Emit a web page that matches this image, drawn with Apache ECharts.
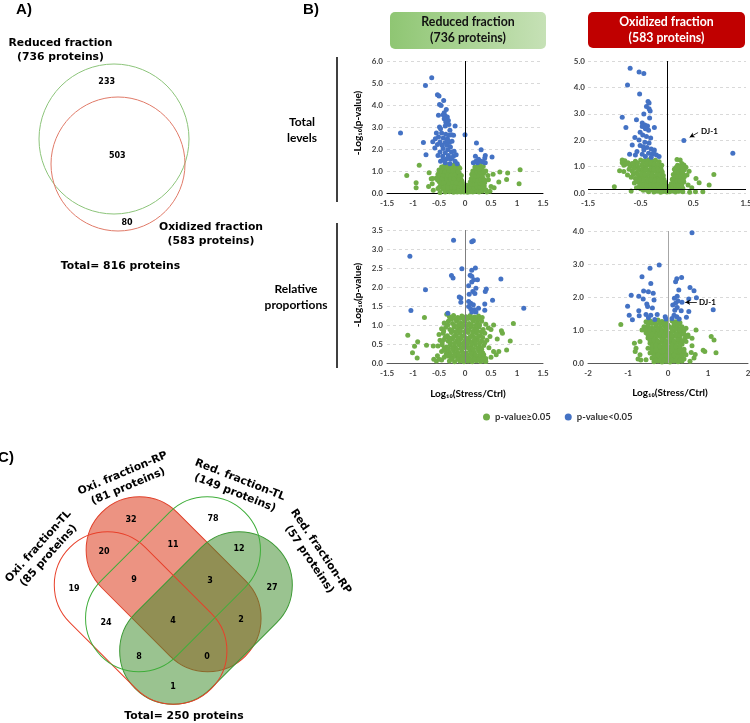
<!DOCTYPE html>
<html><head><meta charset="utf-8">
<script src="https://cdn.jsdelivr.net/npm/echarts@6.0.0/dist/echarts.min.js"></script>
<style>html,body{margin:0;padding:0;background:#fff}#c{width:750px;height:723px}</style>
</head><body><div id="c"></div>
<script>
// ---------- DATA ----------
const seriesNames = ['p-value≥0.05', 'p-value<0.05'];
const headerTitles = ['Reduced fraction\n(736 proteins)', 'Oxidized fraction\n(583 proteins)'];
const rowTitles = ['Total\nlevels', 'Relative\nproportions'];
const yTitle = '-Log₁₀(p-value)';
const xTitle = 'Log₁₀(Stress/Ctrl)';
const annot = 'DJ-1';

// axis ranges [min, max, interval]
const p1X = [-1.5, 1.5, 0.5], p1Y = [0, 6, 1];
const p2X = [-1.5, 1.5, 0.5], p2Y = [0, 5, 1];
const p3X = [-1.5, 1.5, 0.5], p3Y = [0, 3.5, 0.5];
const p4X = [-2, 2, 1], p4Y = [0, 4, 1];

// Plot 1: reduced fraction, total levels
const p1Blue = [[-1.24,2.73],[-0.80,2.29],[-0.75,1.74],[-0.64,5.24],[-0.76,4.89],[-0.53,4.47],[-0.50,4.41],[-0.41,4.20],[-0.49,4.02],[-0.46,3.98],[-0.36,3.79],[-0.40,3.65],[-0.42,3.56],[-0.38,3.50],[-0.34,3.45],[-0.51,3.53],[-0.40,3.38],[-0.32,3.30],[-0.37,3.23],[-0.31,3.11],[-0.49,3.00],[-0.47,2.92],[-0.38,3.05],[-0.19,3.05],[-0.29,2.85],[-0.55,2.73],[-0.45,2.73],[-0.37,2.67],[-0.31,2.62],[-0.26,2.65],[-0.22,2.62],[-0.51,2.55],[-0.42,2.50],[-0.34,2.47],[-0.57,2.47],[-0.62,2.33],[-0.48,2.32],[-0.38,2.29],[-0.30,2.29],[-0.25,2.35],[-0.53,2.20],[-0.44,2.17],[-0.35,2.17],[-0.28,2.09],[-0.58,2.05],[-0.42,2.02],[-0.33,1.97],[-0.48,1.86],[-0.38,1.83],[-0.26,1.86],[-0.52,1.71],[-0.43,1.67],[-0.32,1.71],[-0.22,1.68],[-0.17,1.74],[-0.35,1.56],[-0.28,1.53],[-0.47,1.44],[-0.38,1.38],[-0.19,1.44],[-0.15,1.33],[-0.29,1.33],[-0.25,1.59],[-0.42,1.52],[-0.21,1.90],[-0.33,2.40],[0.0,2.65],[0.22,2.27],[0.31,1.97],[0.20,1.67],[0.39,1.71],[0.38,1.59],[0.26,1.53],[0.31,1.44],[0.24,1.38],[0.21,1.44],[0.16,1.38],[0.35,1.41],[0.39,1.38],[0.52,1.64]];
const p1Green = [[-0.45,1.18],[-0.42,1.14],[-0.38,1.25],[-0.33,1.28],[-0.28,1.22],[-0.22,1.27],[-0.18,1.2],[-0.14,1.24],[-0.5,1.05],[-0.44,1.0],[-0.36,1.05],[-0.3,1.1],[-0.25,1.02],[-0.2,1.08],[-0.15,1.05],[-0.1,1.12],[-0.52,0.85],[-0.46,0.9],[-0.4,0.85],[-0.34,0.92],[-0.27,0.88],[-0.21,0.93],[-0.16,0.86],[-0.11,0.9],[-0.07,0.8],[-0.55,0.68],[-0.48,0.72],[-0.41,0.66],[-0.36,0.74],[-0.3,0.7],[-0.24,0.75],[-0.18,0.68],[-0.13,0.72],[-0.08,0.62],[-0.5,0.52],[-0.44,0.56],[-0.38,0.5],[-0.32,0.55],[-0.26,0.52],[-0.2,0.57],[-0.15,0.5],[-0.1,0.48],[-0.05,0.45],[-0.47,0.35],[-0.4,0.38],[-0.34,0.32],[-0.28,0.36],[-0.22,0.33],[-0.17,0.38],[-0.12,0.3],[-0.07,0.33],[-0.03,0.28],[-0.52,0.2],[-0.43,0.18],[-0.36,0.15],[-0.3,0.2],[-0.24,0.14],[-0.19,0.2],[-0.14,0.12],[-0.09,0.17],[-0.04,0.1],[-0.38,0.05],[-0.3,0.06],[-0.22,0.03],[-0.15,0.05],[-0.08,0.04],[-0.02,0.05],[0.02,0.08],[0.01,0.2],[0.03,0.35],[-0.01,0.15],[0.05,0.03],[0.1,0.06],[0.15,0.04],[0.2,0.07],[0.27,0.05],[0.33,0.08],[0.42,0.05],[0.06,0.18],[0.11,0.2],[0.16,0.15],[0.22,0.19],[0.28,0.17],[0.35,0.2],[0.4,0.15],[0.08,0.32],[0.13,0.36],[0.19,0.3],[0.25,0.34],[0.31,0.38],[0.37,0.32],[0.1,0.5],[0.15,0.46],[0.2,0.53],[0.26,0.5],[0.32,0.55],[0.38,0.48],[0.12,0.65],[0.17,0.7],[0.22,0.66],[0.28,0.72],[0.34,0.68],[0.13,0.85],[0.18,0.82],[0.24,0.88],[0.3,0.84],[0.36,0.9],[0.15,1.0],[0.2,1.05],[0.26,1.0],[0.32,1.06],[0.19,1.18],[0.25,1.22],[0.3,1.15],[0.35,1.2],[0.28,1.3],[0.4,1.0],[0.44,0.8],[0.45,0.6],[-1.12,0.8],[-0.88,1.26],[-0.94,0.47],[-0.94,0.24],[-0.69,0.92],[-0.65,0.65],[-0.62,0.66],[-0.63,0.42],[-0.61,0.12],[-0.48,0.02],[-0.7,0.3],[0.54,0.85],[0.65,0.5],[0.67,0.95],[0.82,0.91],[0.8,0.61],[1.06,1.06],[1.04,0.42],[0.56,0.24],[0.48,0.08],[0.5,0.3]];
const p1GreenB = [[-0.41,1.2],[-0.35,1.16],[-0.26,1.15],[-0.19,1.14],[-0.12,1.17],[-0.47,0.96],[-0.39,0.95],[-0.31,0.98],[-0.23,0.99],[-0.13,0.97],[-0.49,0.78],[-0.43,0.8],[-0.33,0.82],[-0.27,0.79],[-0.2,0.82],[-0.1,0.76],[-0.53,0.6],[-0.45,0.63],[-0.35,0.6],[-0.28,0.64],[-0.21,0.62],[-0.12,0.58],[-0.06,0.55],[-0.46,0.44],[-0.41,0.46],[-0.31,0.43],[-0.24,0.45],[-0.17,0.44],[-0.09,0.4],[-0.49,0.27],[-0.39,0.26],[-0.33,0.24],[-0.26,0.27],[-0.2,0.26],[-0.11,0.23],[-0.06,0.2],[-0.01,0.1],[-0.12,0.08],[0.08,0.12],[0.13,0.1],[0.24,0.12],[0.31,0.12],[0.1,0.26],[0.17,0.24],[0.23,0.27],[0.29,0.27],[0.34,0.28],[0.12,0.42],[0.18,0.4],[0.23,0.43],[0.29,0.45],[0.35,0.42],[0.14,0.58],[0.19,0.6],[0.25,0.58],[0.3,0.63],[0.37,0.6],[0.15,0.76],[0.21,0.77],[0.27,0.8],[0.33,0.77],[0.17,0.93],[0.23,0.96],[0.29,0.94],[0.35,0.98],[0.22,1.12],[0.27,1.08]];

// Plot 2: oxidized fraction, total levels
const p2Blue = [[-0.70,4.73],[-0.53,4.58],[-0.44,4.53],[-0.75,4.09],[-0.52,3.75],[-0.36,3.47],[-0.34,3.41],[-0.39,3.28],[-0.34,3.19],[-0.85,2.87],[-0.32,3.11],[-0.44,2.99],[-0.58,2.77],[-0.33,2.84],[-0.47,2.65],[-0.42,2.58],[-0.37,2.54],[-0.47,2.52],[-0.78,2.48],[-0.24,2.48],[-0.41,2.43],[-0.35,2.38],[-0.51,2.30],[-0.46,2.20],[-0.39,2.14],[-0.61,2.10],[-0.31,2.08],[-0.53,2.01],[-0.42,1.92],[-0.34,1.89],[-0.66,1.82],[-0.51,1.80],[-0.38,1.72],[-0.30,1.67],[-0.44,1.63],[-0.24,1.63],[-0.57,1.57],[-0.71,1.47],[-0.60,1.44],[-0.47,1.47],[-0.35,1.51],[-0.28,1.47],[-0.20,1.44],[-0.15,1.38],[-0.41,1.38],[-0.30,1.35],[-0.25,1.55],[-0.45,1.75],[0.32,1.99],[1.25,1.51]];
const p2Green = [[-0.85,1.25],[-0.8,1.22],[-0.85,1.15],[-0.78,1.1],[-0.6,1.2],[-0.5,1.25],[-0.42,1.22],[-0.35,1.25],[-0.28,1.2],[-0.22,1.24],[-0.15,1.18],[-0.7,1.0],[-0.62,1.05],[-0.55,0.98],[-0.48,1.05],[-0.4,1.0],[-0.33,1.06],[-0.26,0.98],[-0.19,1.03],[-0.12,0.96],[-0.9,0.84],[-0.82,0.81],[-0.75,0.68],[-0.66,0.82],[-0.58,0.78],[-0.5,0.85],[-0.43,0.8],[-0.36,0.86],[-0.29,0.78],[-0.22,0.83],[-0.15,0.77],[-0.09,0.8],[-0.68,0.6],[-0.6,0.55],[-0.53,0.62],[-0.46,0.58],[-0.39,0.64],[-0.32,0.57],[-0.25,0.62],[-0.18,0.56],[-0.11,0.6],[-0.06,0.52],[-0.62,0.38],[-0.55,0.42],[-0.48,0.36],[-0.41,0.42],[-0.34,0.37],[-0.27,0.43],[-0.2,0.36],[-0.14,0.4],[-0.08,0.35],[-0.03,0.3],[-0.58,0.2],[-0.5,0.16],[-0.43,0.22],[-0.36,0.17],[-0.29,0.21],[-0.22,0.15],[-0.16,0.2],[-0.1,0.14],[-0.04,0.18],[-0.68,0.08],[-0.35,0.05],[-0.25,0.04],[-0.18,0.07],[-0.12,0.03],[-0.06,0.06],[0.0,0.04],[0.0,0.15],[0.02,0.25],[0.05,0.05],[0.1,0.08],[0.16,0.04],[0.22,0.07],[0.3,0.05],[0.06,0.18],[0.12,0.22],[0.18,0.17],[0.24,0.21],[0.3,0.18],[0.08,0.35],[0.14,0.4],[0.2,0.34],[0.26,0.38],[0.32,0.42],[0.1,0.52],[0.16,0.57],[0.22,0.5],[0.28,0.55],[0.38,0.68],[0.12,0.7],[0.18,0.75],[0.24,0.68],[0.3,0.74],[0.14,0.9],[0.2,0.86],[0.27,0.92],[0.33,0.88],[0.19,1.27],[0.25,1.25],[0.32,1.06],[0.2,1.05],[0.28,1.12],[0.36,0.98],[0.42,0.82],[-1.0,0.24],[0.89,0.7],[0.8,0.3],[0.61,0.39],[0.68,0.05],[0.54,0.05],[0.43,0.03],[0.47,0.2],[0.4,0.3],[0.55,0.55]];
const p2GreenB = [[-0.82,1.05],[-0.74,1.15],[-0.66,1.12],[-0.56,1.14],[-0.46,1.13],[-0.38,1.14],[-0.3,1.13],[-0.24,1.1],[-0.17,1.1],[-0.1,1.05],[-0.72,0.9],[-0.63,0.93],[-0.54,0.9],[-0.46,0.94],[-0.4,0.9],[-0.31,0.92],[-0.25,0.9],[-0.17,0.9],[-0.11,0.88],[-0.64,0.7],[-0.56,0.7],[-0.49,0.72],[-0.42,0.7],[-0.35,0.73],[-0.28,0.68],[-0.2,0.7],[-0.13,0.68],[-0.07,0.66],[-0.58,0.5],[-0.51,0.49],[-0.44,0.5],[-0.37,0.5],[-0.3,0.5],[-0.23,0.49],[-0.16,0.48],[-0.1,0.45],[-0.04,0.42],[-0.52,0.28],[-0.45,0.3],[-0.38,0.28],[-0.31,0.3],[-0.25,0.28],[-0.18,0.28],[-0.12,0.25],[-0.06,0.26],[-0.45,0.1],[-0.39,0.11],[-0.31,0.12],[-0.22,0.1],[-0.15,0.12],[-0.08,0.1],[-0.02,0.1],[0.04,0.12],[0.09,0.15],[0.14,0.12],[0.2,0.12],[0.26,0.12],[0.1,0.3],[0.16,0.28],[0.22,0.28],[0.28,0.3],[0.12,0.45],[0.18,0.47],[0.25,0.46],[0.31,0.5],[0.14,0.62],[0.2,0.64],[0.26,0.62],[0.33,0.62],[0.16,0.8],[0.22,0.8],[0.28,0.82],[0.17,0.97],[0.24,1.0],[0.3,0.98]];

// Plot 3: reduced fraction, relative proportions
const p3Blue = [[-0.22,3.23],[0.13,3.19],[0.16,3.22],[-1.06,2.81],[-0.06,2.48],[0.20,2.50],[0.10,2.31],[0.13,2.28],[-0.26,2.30],[-0.23,2.24],[0.17,2.19],[0.24,2.19],[0.13,2.44],[0.69,2.21],[0.13,2.13],[0.07,2.03],[0.21,1.97],[-0.76,1.93],[0.41,1.95],[0.39,1.88],[0.15,1.88],[0.08,1.81],[0.19,1.83],[-0.11,1.74],[-0.08,1.71],[-0.08,1.60],[0.53,1.65],[0.07,1.62],[0.11,1.57],[0.16,1.53],[0.38,1.55],[0.07,1.49],[0.11,1.42],[0.18,1.40],[0.21,1.34],[0.38,1.39],[-1.04,1.38],[1.13,1.44],[-0.33,1.31],[0.26,1.44],[0.13,1.34]];
const p3Green = [[-0.3,1.22],[-0.22,1.25],[-0.14,1.2],[-0.06,1.24],[0.02,1.22],[0.1,1.25],[0.18,1.21],[0.26,1.24],[0.33,1.2],[-0.4,1.05],[-0.32,1.1],[-0.24,1.04],[-0.16,1.1],[-0.08,1.05],[0.0,1.1],[0.08,1.04],[0.16,1.1],[0.24,1.05],[0.32,1.1],[0.4,1.02],[-0.45,0.9],[-0.37,0.94],[-0.29,0.88],[-0.21,0.95],[-0.13,0.9],[-0.05,0.95],[0.03,0.88],[0.11,0.94],[0.19,0.9],[0.27,0.95],[0.35,0.88],[0.45,0.92],[-0.5,0.75],[-0.42,0.78],[-0.34,0.72],[-0.26,0.8],[-0.18,0.74],[-0.1,0.78],[-0.02,0.72],[0.06,0.8],[0.14,0.74],[0.22,0.78],[0.3,0.72],[0.38,0.78],[-0.48,0.6],[-0.4,0.62],[-0.32,0.57],[-0.24,0.63],[-0.16,0.58],[-0.08,0.64],[0.0,0.58],[0.08,0.63],[0.16,0.57],[0.24,0.62],[0.32,0.58],[0.42,0.6],[-0.52,0.45],[-0.44,0.48],[-0.36,0.42],[-0.28,0.47],[-0.2,0.43],[-0.12,0.48],[-0.04,0.42],[0.04,0.47],[0.12,0.43],[0.2,0.48],[0.28,0.42],[0.36,0.46],[0.46,0.4],[-0.45,0.3],[-0.38,0.33],[-0.3,0.28],[-0.22,0.32],[-0.14,0.27],[-0.06,0.31],[0.02,0.27],[0.1,0.32],[0.18,0.28],[0.26,0.32],[0.34,0.27],[-0.4,0.15],[-0.32,0.18],[-0.24,0.14],[-0.16,0.17],[-0.08,0.13],[0.0,0.17],[0.08,0.13],[0.16,0.18],[0.24,0.14],[0.32,0.17],[0.4,0.12],[-0.5,0.1],[-0.55,0.05],[-0.3,0.05],[-0.2,0.03],[-0.1,0.05],[-0.02,0.03],[0.06,0.05],[0.14,0.03],[0.22,0.06],[0.3,0.04],[0.38,0.05],[0.0,0.4],[0.05,0.55],[-0.05,0.2],[0.1,0.38],[-1.1,0.73],[-0.97,0.44],[-1.01,0.27],[-0.91,0.56],[-0.92,0.13],[-0.78,1.2],[-0.74,0.47],[-0.61,0.45],[-0.53,0.19],[-0.6,0.1],[-0.35,1.28],[0.7,0.85],[0.72,0.78],[0.87,0.58],[0.8,0.34],[0.93,1.04],[0.62,0.63],[0.55,0.3],[0.6,0.22],[0.65,0.3],[0.5,0.88],[0.55,1.0],[0.48,0.7],[0.5,0.15],[0.4,0.04]];
const p3GreenB = [[-0.26,1.16],[-0.18,1.15],[-0.1,1.17],[-0.02,1.16],[0.06,1.17],[0.14,1.16],[0.22,1.15],[0.29,1.16],[-0.33,1.0],[-0.2,0.99],[-0.12,1.0],[-0.04,1.0],[0.04,0.99],[0.12,1.0],[0.2,0.99],[0.28,1.0],[-0.41,0.84],[-0.25,0.85],[-0.17,0.83],[-0.09,0.86],[-0.01,0.82],[0.07,0.86],[0.15,0.83],[0.23,0.85],[0.31,0.82],[-0.38,0.68],[-0.3,0.66],[-0.22,0.69],[-0.14,0.67],[-0.06,0.7],[0.02,0.66],[0.1,0.69],[0.18,0.67],[0.26,0.7],[0.34,0.67],[-0.44,0.54],[-0.28,0.53],[-0.2,0.52],[-0.12,0.55],[-0.04,0.52],[0.04,0.54],[0.12,0.52],[0.2,0.55],[0.28,0.52],[0.38,0.53],[-0.4,0.39],[-0.32,0.37],[-0.24,0.38],[-0.16,0.36],[-0.08,0.38],[0.08,0.38],[0.16,0.37],[0.24,0.39],[0.32,0.36],[-0.36,0.23],[-0.28,0.22],[-0.2,0.23],[-0.12,0.21],[-0.04,0.24],[0.04,0.22],[0.12,0.23],[0.2,0.21],[0.28,0.23],[0.36,0.22],[-0.45,0.08],[-0.26,0.1],[-0.14,0.1],[-0.06,0.09],[0.02,0.1],[0.1,0.09],[0.18,0.1],[0.26,0.09],[0.34,0.1]];

// Plot 4: oxidized fraction, relative proportions
const p4Blue = [[0.60,3.95],[-0.22,2.97],[-0.45,2.87],[-0.65,2.61],[0.22,2.55],[0.34,2.59],[0.19,2.46],[-0.43,2.41],[0.55,2.29],[0.27,2.21],[-0.61,2.18],[-0.49,2.16],[-0.37,2.11],[0.65,2.19],[-0.92,2.05],[-0.73,2.02],[0.23,2.02],[0.71,1.98],[0.16,1.96],[-0.62,1.94],[0.52,1.94],[-0.35,1.91],[0.25,1.88],[0.19,1.81],[-0.53,1.79],[0.12,1.76],[0.35,1.84],[-1.01,1.72],[-0.51,1.71],[0.23,1.68],[-0.39,1.67],[1.13,1.61],[0.17,1.60],[0.33,1.58],[-0.73,1.58],[0.52,1.56],[-0.55,1.47],[-0.97,1.45],[-0.43,1.45],[-0.27,1.47],[0.15,1.45],[-0.72,1.43],[0.22,1.40],[-0.89,1.31],[-0.49,1.37],[-0.33,1.32],[-0.07,1.40],[-0.05,1.33],[0.46,1.39],[0.28,1.33],[0.10,1.35]];
const p4Green = [[-0.55,1.25],[-0.45,1.28],[-0.35,1.24],[-0.25,1.3],[-0.15,1.26],[-0.05,1.22],[0.1,1.28],[0.2,1.25],[0.3,1.22],[-0.6,1.1],[-0.5,1.12],[-0.4,1.06],[-0.3,1.12],[-0.2,1.07],[-0.1,1.13],[0.05,1.08],[0.15,1.12],[0.25,1.06],[0.35,1.1],[0.45,1.05],[-0.55,0.92],[-0.45,0.96],[-0.35,0.9],[-0.25,0.95],[-0.15,0.9],[-0.05,0.95],[0.05,0.9],[0.15,0.96],[0.25,0.9],[0.35,0.95],[0.5,0.85],[-0.5,0.76],[-0.4,0.78],[-0.3,0.73],[-0.2,0.8],[-0.1,0.74],[0.0,0.8],[0.1,0.75],[0.2,0.8],[0.3,0.73],[0.42,0.75],[-0.45,0.6],[-0.35,0.62],[-0.25,0.57],[-0.15,0.63],[-0.05,0.58],[0.05,0.64],[0.15,0.58],[0.25,0.62],[0.35,0.57],[-0.5,0.45],[-0.4,0.43],[-0.3,0.48],[-0.2,0.42],[-0.1,0.47],[0.0,0.43],[0.1,0.48],[0.2,0.43],[0.3,0.47],[0.4,0.42],[-0.45,0.3],[-0.35,0.28],[-0.25,0.32],[-0.15,0.27],[-0.05,0.31],[0.05,0.27],[0.15,0.32],[0.25,0.28],[0.35,0.3],[0.45,0.25],[-0.4,0.15],[-0.3,0.17],[-0.2,0.13],[-0.1,0.17],[0.0,0.13],[0.1,0.17],[0.2,0.13],[0.3,0.17],[0.4,0.12],[-0.55,0.1],[-0.35,0.04],[-0.25,0.06],[-0.15,0.03],[-0.05,0.05],[0.05,0.03],[0.15,0.06],[0.25,0.04],[0.35,0.06],[-1.18,1.17],[-0.84,0.6],[-0.8,0.45],[-0.75,0.12],[-0.68,0.09],[-0.82,0.35],[-0.7,0.25],[0.5,0.8],[0.6,0.52],[0.58,0.32],[0.88,0.39],[0.92,0.35],[1.08,0.8],[1.15,0.7],[1.2,0.31],[0.68,0.26],[0.65,0.15],[0.55,0.05],[0.7,1.0],[0.6,0.75],[0.45,0.65],[-0.65,1.0],[-0.7,0.65]];
const p4GreenB = [[-0.5,1.18],[-0.4,1.2],[-0.3,1.18],[-0.2,1.19],[-0.1,1.2],[0.0,1.15],[0.15,1.19],[0.25,1.17],[-0.55,1.02],[-0.45,1.04],[-0.35,1.0],[-0.25,1.03],[-0.15,1.0],[-0.05,1.04],[0.1,1.0],[0.2,1.03],[0.3,1.0],[0.4,0.98],[-0.5,0.85],[-0.4,0.87],[-0.3,0.83],[-0.2,0.87],[-0.1,0.84],[0.0,0.88],[0.1,0.84],[0.2,0.88],[0.3,0.83],[0.4,0.87],[-0.45,0.68],[-0.35,0.7],[-0.25,0.66],[-0.15,0.71],[-0.05,0.67],[0.05,0.71],[0.15,0.67],[0.25,0.71],[0.35,0.66],[-0.4,0.52],[-0.3,0.55],[-0.2,0.51],[-0.1,0.55],[0.0,0.51],[0.1,0.55],[0.2,0.51],[0.3,0.55],[-0.4,0.36],[-0.3,0.39],[-0.2,0.35],[-0.1,0.39],[0.0,0.35],[0.1,0.39],[0.2,0.35],[0.3,0.39],[0.4,0.34],[-0.35,0.22],[-0.25,0.24],[-0.15,0.2],[-0.05,0.23],[0.05,0.2],[0.15,0.24],[0.25,0.2],[0.35,0.23],[-0.3,0.1],[-0.2,0.08],[-0.1,0.1],[0.0,0.07],[0.1,0.1],[0.2,0.08],[0.3,0.1]];

// Venn A
const vennASets = ['Reduced fraction\n(736 proteins)', 'Oxidized fraction\n(583 proteins)'];
const vennACounts = ['233', '503', '80'];
const vennATotal = 'Total= 816 proteins';
// Venn C
const vennCSets = ['Oxi. fraction-TL\n(85 proteins)', 'Oxi. fraction-RP\n(81 proteins)', 'Red. fraction-TL\n(149 proteins)', 'Red. fraction-RP\n(57 proteins)'];
const vennCCounts = ['32','78','20','11','12','19','9','3','27','24','4','2','8','0','1'];
const vennCTotal = 'Total= 250 proteins';
const panelLetters = ['A)', 'B)', 'C)'];

// ---------- LAYOUT ----------
const GREEN = '#70AD47', BLUE = '#4472C4';
const vennAPos = [[106.7,81.7],[117.3,156],[127,223.3]];
const vennCPos = [[131,520],[213,519],[104,552],[173,545],[239,549],[74,589],[134,580],[210,581],[272,588],[106,623],[173,621],[241,620],[139,657],[207,657],[173,687]];
const vennCLabelPos = [[43.5,551,0.84],[125.5,480,0.40],[237.5,486.5,-0.375],[315,555.5,-0.977]];

const chart = echarts.init(document.getElementById('c'), null, {renderer: 'canvas'});

function txt(x, y, text, font, opts) {
  opts = opts || {};
  return {
    type: 'text', x: x, y: y, rotation: opts.rotation || 0, z: 100,
    style: {text: text, font: font, fill: opts.fill || '#000', align: opts.align || 'center',
      verticalAlign: 'middle', textAlign: opts.align || 'center', textVerticalAlign: 'middle',
      lineHeight: opts.lineHeight || undefined}
  };
}
const vfont = 'bold 10.8px "DejaVu Sans"';
const cfont = 'bold 8px "DejaVu Sans"';
const bfont = 'bold 12.3px Lato';
const rfont = 'bold 12px Lato';

const graphics = [];
graphics.push(txt(24, 10, panelLetters[0], 'bold 15px "Liberation Sans"'));
graphics.push(txt(311, 10, panelLetters[1], 'bold 15px "Liberation Sans"'));
graphics.push(txt(6, 458, panelLetters[2], 'bold 15px "Liberation Sans"'));
// Venn A
graphics.push({type: 'circle', shape: {cx: 114, cy: 139, r: 75}, style: {fill: 'none', stroke: '#8cc47a', lineWidth: 1}});
graphics.push({type: 'circle', shape: {cx: 118, cy: 164, r: 67}, style: {fill: 'none', stroke: '#e07a68', lineWidth: 1}});
graphics.push(txt(60.5, 50, vennASets[0], vfont, {lineHeight: 13.4}));
graphics.push(txt(211, 234, vennASets[1], vfont, {lineHeight: 14.5}));
vennACounts.forEach((c, i) => graphics.push(txt(vennAPos[i][0], vennAPos[i][1], c, cfont)));
graphics.push(txt(120.5, 266.5, vennATotal, vfont));
// Venn C shapes (stadiums)
function stadium(cx, cy, d, r, rot, style) {
  return {type: 'rect', x: cx, y: cy, rotation: rot, shape: {x: -(d / 2 + r), y: -r, width: d + 2 * r, height: 2 * r, r: r}, style: style};
}
const R = 53.3;
graphics.push(stadium(173.6, 584.2, 96.6, R, -Math.PI / 4, {fill: 'rgba(222,62,32,0.56)', stroke: '#e0402a', lineWidth: 1}));
graphics.push(stadium(206.0, 618.0, 93.4, R, Math.PI / 4, {fill: 'rgba(62,140,42,0.52)', stroke: '#3d9a35', lineWidth: 1}));
graphics.push(stadium(140.6, 618.0, 93.4, R, -Math.PI / 4, {fill: 'none', stroke: '#e8402a', lineWidth: 1}));
graphics.push(stadium(173.0, 584.2, 96.6, R, Math.PI / 4, {fill: 'none', stroke: '#3fae3a', lineWidth: 1}));
vennCCounts.forEach((c, i) => graphics.push(txt(vennCPos[i][0], vennCPos[i][1], c, cfont)));
vennCSets.forEach((s, i) => graphics.push(txt(vennCLabelPos[i][0], vennCLabelPos[i][1], s, vfont, {rotation: vennCLabelPos[i][2], lineHeight: 14})));
graphics.push(txt(184, 716, vennCTotal, vfont));
// Panel B headers
graphics.push({type: 'rect', shape: {x: 390, y: 12, width: 156, height: 37, r: 5},
  style: {fill: new echarts.graphic.LinearGradient(0, 0, 1, 0, [{offset: 0, color: '#8fc673'}, {offset: 1, color: '#c6e1b6'}])}});
graphics.push(txt(468, 30, headerTitles[0], bfont, {lineHeight: 16, fill: '#111'}));
graphics.push({type: 'rect', shape: {x: 588, y: 12, width: 157, height: 36, r: 5}, style: {fill: '#c00000'}});
graphics.push(txt(666.5, 30, headerTitles[1], bfont, {lineHeight: 16, fill: '#fff'}));
// row labels + separators
graphics.push(txt(302, 130, rowTitles[0], rfont, {lineHeight: 16}));
graphics.push(txt(296, 297, rowTitles[1], rfont, {lineHeight: 16}));
graphics.push({type: 'line', shape: {x1: 337, y1: 57, x2: 337, y2: 202}, style: {stroke: '#000', lineWidth: 1.5}});
graphics.push({type: 'line', shape: {x1: 337, y1: 223, x2: 337, y2: 368}, style: {stroke: '#000', lineWidth: 1.5}});
// axis titles
graphics.push(txt(358, 123, yTitle, 'bold 10px Lato', {rotation: Math.PI / 2}));
graphics.push(txt(358, 295, yTitle, 'bold 10px Lato', {rotation: Math.PI / 2}));
graphics.push(txt(468, 394, xTitle, 'bold 10px Lato'));
graphics.push(txt(670, 393, xTitle, 'bold 10px Lato'));
// DJ-1 labels
graphics.push(txt(701, 131, annot, 'bold 8px Lato', {align: 'left'}));
graphics.push(txt(699, 302.5, annot, 'bold 8px Lato', {align: 'left'}));

const grids = [
  {left: 387, top: 61, width: 156, height: 132},
  {left: 588, top: 61, width: 158, height: 132},
  {left: 387, top: 230, width: 156, height: 133},
  {left: 588, top: 231, width: 160, height: 132}
].map(g => Object.assign({containLabel: false, outerBoundsMode: 'none'}, g));

const labelStyle = {fontFamily: 'Lato', fontWeight: 'bold', fontSize: 8, color: '#404040'};
function xAx(i, r, axisColor, hideInt) {
  return {type: 'value', gridIndex: i, min: r[0], max: r[1], interval: r[2],
    axisLine: {show: !hideInt, onZero: false, lineStyle: {color: axisColor, width: 1}}, axisTick: {show: false}, splitLine: {show: false},
    axisLabel: Object.assign({margin: 6, formatter: v => (hideInt && Math.abs(v - Math.round(v)) < 1e-9) ? '' : String(v)}, labelStyle)};
}
function yAx(i, r, margin) {
  return {type: 'value', gridIndex: i, min: r[0], max: r[1], interval: r[2],
    axisLine: {show: false}, axisTick: {show: false},
    splitLine: {show: true, lineStyle: {color: '#d9d9d9', type: [3, 3], width: 1}},
    axisLabel: Object.assign({margin: margin, formatter: v => v.toFixed(1)}, labelStyle)};
}
function vline(color) {
  return {silent: true, symbol: 'none', animation: false, label: {show: false}, lineStyle: {color: color, width: 1, type: 'solid'}, emphasis: {disabled: true}, data: [{xAxis: 0}]};
}
function sc(name, i, data, color, extra) {
  return Object.assign({name: name, type: 'scatter', xAxisIndex: i, yAxisIndex: i, data: data, symbolSize: 5,
    itemStyle: {color: color, opacity: 1}, emphasis: {disabled: true}, animation: false}, extra || {});
}
function arrow(from, to) {
  return {silent: true, animation: false, label: {show: false}, lineStyle: {color: '#000', width: 0.8, type: 'solid'}, emphasis: {disabled: true},
    data: [[{coord: from, symbol: 'none'}, {coord: to, symbol: 'arrow', symbolSize: [4, 5]}]]};
}
const p2Line = {silent: true, symbol: 'none', animation: false, label: {show: false}, lineStyle: {color: '#000', width: 1, type: 'solid'}, emphasis: {disabled: true}, data: [{xAxis: 0}, {yAxis: 0.15}]};

const option = {
  animation: false,
  textStyle: {fontFamily: 'Lato'},
  graphic: {elements: graphics},
  grid: grids,
  xAxis: [xAx(0, p1X, '#000', false), xAx(1, p2X, '#000', true), xAx(2, p3X, '#595959', false), xAx(3, p4X, '#595959', false)],
  yAxis: [yAx(0, p1Y, 4), yAx(1, p2Y, 3), yAx(2, p3Y, 4), yAx(3, p4Y, 4)],
  legend: {data: seriesNames, left: 478, top: 407, icon: 'circle', itemWidth: 7, itemHeight: 7, itemGap: 14,
    textStyle: {fontFamily: 'Lato', fontWeight: 'bold', fontSize: 9.5, color: '#333'}, selectedMode: false},
  series: [
    sc(seriesNames[0], 0, p1Green.concat(p1GreenB), GREEN, {markLine: vline('#000')}),
    sc(seriesNames[1], 0, p1Blue, BLUE),
    sc(seriesNames[0], 1, p2Green.concat(p2GreenB), GREEN, {markLine: p2Line}),
    sc(seriesNames[1], 1, p2Blue, BLUE, {markLine: arrow([0.59, 2.29], [0.43, 2.11])}),
    sc(seriesNames[0], 2, p3Green.concat(p3GreenB), GREEN, {markLine: vline('#7f7f7f')}),
    sc(seriesNames[1], 2, p3Blue, BLUE),
    sc(seriesNames[0], 3, p4Green.concat(p4GreenB), GREEN, {markLine: vline('#a6a6a6')}),
    sc(seriesNames[1], 3, p4Blue, BLUE, {markLine: arrow([0.72, 1.84], [0.43, 1.84])})
  ]
};
chart.setOption(option);
</script></body></html>
